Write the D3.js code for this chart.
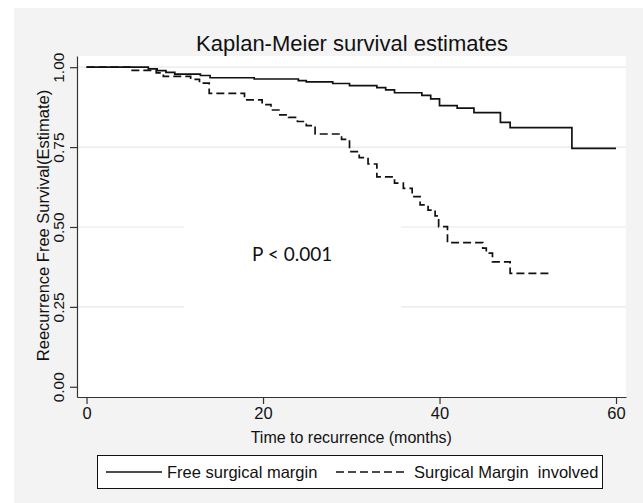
<!DOCTYPE html>
<html>
<head>
<meta charset="utf-8">
<script src="https://cdn.jsdelivr.net/npm/d3@7"></script>
<style>
  html, body { margin: 0; padding: 0; background: #ffffff; }
  svg { display: block; }
</style>
</head>
<body>
<svg id="chart" width="643" height="503"></svg>
<script>
// ---- Data ----
const title = "Kaplan-Meier survival estimates";
const xLabel = "Time to recurrence (months)";
const yLabel = "Reecurrence Free Survival(Estimate)";
const xTicks = [0, 20, 40, 60];
const yTicks = [0, 0.25, 0.5, 0.75, 1];
const seriesNames = ["Free surgical margin", "Surgical Margin  involved"];
const pText = "P < 0.001";

// Free surgical margin (solid): step times and survival after each step
const freeTime = [0, 7.0, 8.0, 9.0, 10.0, 12.9, 14.0, 19.0, 24.0, 24.9, 27.9, 29.8, 32.9, 33.9, 34.9, 38.0, 39.0, 40.0, 42.0, 43.9, 46.9, 48.0, 55.0, 60.0];
const freeSurv = [1.000, 0.995, 0.989, 0.984, 0.978, 0.974, 0.967, 0.963, 0.958, 0.954, 0.949, 0.942, 0.936, 0.929, 0.920, 0.912, 0.901, 0.880, 0.872, 0.858, 0.827, 0.811, 0.746, 0.746];

// Surgical margin involved (dashed)
const invTime = [0, 4.9, 7.9, 8.7, 11.8, 12.8, 13.9, 17.9, 19.9, 20.9, 21.9, 22.9, 23.9, 24.9, 25.9, 28.9, 29.8, 30.9, 31.9, 32.9, 34.9, 35.9, 36.9, 37.8, 38.7, 39.5, 39.9, 40.9, 44.9, 45.3, 46.0, 48.0, 52.7];
const invSurv = [1.000, 0.990, 0.982, 0.971, 0.962, 0.950, 0.918, 0.898, 0.883, 0.866, 0.851, 0.843, 0.830, 0.817, 0.791, 0.774, 0.736, 0.717, 0.697, 0.657, 0.637, 0.621, 0.595, 0.569, 0.553, 0.535, 0.501, 0.451, 0.434, 0.418, 0.391, 0.355, 0.355];

// ---- Drawing ----
const svg = d3.select("#chart");
const W = 643, H = 503;
const font = "'Liberation Sans', Arial, sans-serif";

// outer grey panel
svg.append("rect").attr("x", 14).attr("y", 8).attr("width", W - 14).attr("height", H - 8)
  .attr("fill", "#f3f3f3");

const plot = { left: 77, right: 626, top: 56, bottom: 397 };
const x = d3.scaleLinear().domain([-1.08, 61.13]).range([plot.left, plot.right]);
const y = d3.scaleLinear().domain([-0.032, 1.035]).range([plot.bottom, plot.top]);

// plot area
svg.append("rect").attr("x", plot.left).attr("y", plot.top)
  .attr("width", plot.right - plot.left).attr("height", plot.bottom - plot.top)
  .attr("fill", "#ffffff");

// gridlines (interior ticks)
const grid = svg.append("g");
yTicks.filter(v => v > 0).forEach(v => {
  grid.append("line").attr("x1", plot.left).attr("x2", plot.right)
    .attr("y1", y(v)).attr("y2", y(v))
    .attr("stroke", "#e8e8e8").attr("stroke-width", 1.2);
});

// white box behind the P-value annotation (interrupts gridlines)
svg.append("rect").attr("x", 184).attr("y", 205).attr("width", 217).attr("height", 120)
  .attr("fill", "#ffffff");

// axes
const axisColor = "#333333";
const yAxis = svg.append("g").attr("transform", `translate(${plot.left},0)`)
  .call(d3.axisLeft(y).tickValues(yTicks).tickFormat(d3.format(".2f")).tickSize(7).tickSizeOuter(0));
yAxis.select(".domain").attr("stroke", axisColor).attr("stroke-width", 1.2);
yAxis.selectAll(".tick line").attr("stroke", axisColor).attr("stroke-width", 1.2);
yAxis.selectAll(".tick text")
  .attr("font-family", font).attr("font-size", 15.5).attr("fill", "#111")
  .attr("text-anchor", "middle")
  .attr("x", 0).attr("dy", 0)
  .attr("transform", "translate(-13,0) rotate(-90)");

const xAxis = svg.append("g").attr("transform", `translate(0,${plot.bottom})`)
  .call(d3.axisBottom(x).tickValues(xTicks).tickFormat(d3.format("d")).tickSize(7).tickSizeOuter(0));
xAxis.select(".domain").attr("stroke", axisColor).attr("stroke-width", 1.2);
xAxis.selectAll(".tick line").attr("stroke", axisColor).attr("stroke-width", 1.2);
xAxis.selectAll(".tick text")
  .attr("font-family", font).attr("font-size", 16.5).attr("fill", "#111")
  .attr("y", 10).attr("dy", "0.71em");

// curves
const line = d3.line().x(d => x(d[0])).y(d => y(d[1])).curve(d3.curveStepAfter);
const freeData = freeTime.map((t, i) => [t, freeSurv[i]]);
const invData = invTime.map((t, i) => [t, invSurv[i]]);

svg.append("path").datum(freeData).attr("d", line)
  .attr("fill", "none").attr("stroke", "#111").attr("stroke-width", 1.7);
svg.append("path").datum(invData).attr("d", line)
  .attr("fill", "none").attr("stroke", "#111").attr("stroke-width", 1.7)
  .attr("stroke-dasharray", "8,4");

// title
svg.append("text").attr("x", 352).attr("y", 51).attr("text-anchor", "middle")
  .attr("font-family", font).attr("font-size", 22).attr("fill", "#111").text(title);

// axis titles
svg.append("text").attr("x", (x(0) + x(60)) / 2).attr("y", 443).attr("text-anchor", "middle")
  .attr("font-family", font).attr("font-size", 16).attr("fill", "#111").text(xLabel);
svg.append("text").attr("transform", `translate(49,${(plot.top + plot.bottom) / 2 - 1}) rotate(-90)`)
  .attr("text-anchor", "middle")
  .attr("font-family", font).attr("font-size", 16.5).attr("fill", "#111").text(yLabel);

// P-value
svg.append("text").attr("x", 252).attr("y", 261)
  .attr("font-family", "Lato, 'Open Sans', sans-serif").attr("font-size", 19).attr("fill", "#111").text(pText);

// legend
const lg = svg.append("g");
lg.append("rect").attr("x", 97.5).attr("y", 455.5).attr("width", 505).attr("height", 33)
  .attr("fill", "#ffffff").attr("stroke", "#111").attr("stroke-width", 1);
const legY = 472;
lg.append("line").attr("x1", 106).attr("x2", 162).attr("y1", legY).attr("y2", legY)
  .attr("stroke", "#111").attr("stroke-width", 1.7);
lg.append("text").attr("x", 167).attr("y", legY + 5.5)
  .attr("font-family", font).attr("font-size", 16.5).attr("fill", "#111").text(seriesNames[0]);
lg.append("line").attr("x1", 336).attr("x2", 406).attr("y1", legY).attr("y2", legY)
  .attr("stroke", "#111").attr("stroke-width", 1.7).attr("stroke-dasharray", "8,4");
lg.append("text").attr("x", 414).attr("y", legY + 5.5)
  .style("white-space", "pre")
  .attr("font-family", font).attr("font-size", 16.5).attr("fill", "#111").text(seriesNames[1]);
</script>
</body>
</html>
